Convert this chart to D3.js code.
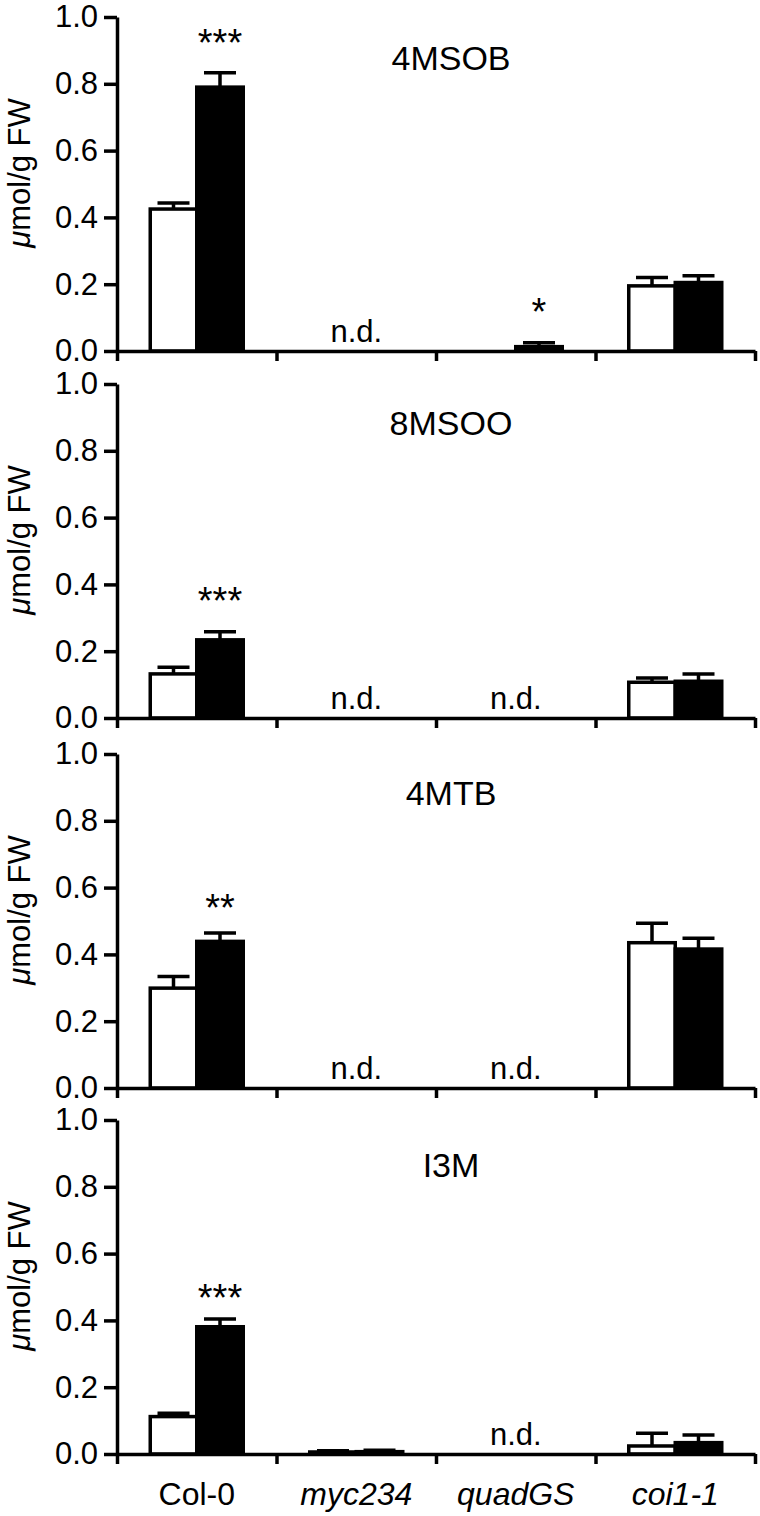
<!DOCTYPE html>
<html>
<head>
<meta charset="utf-8">
<script src="https://cdn.jsdelivr.net/npm/d3@7"></script>
<style>
  html, body { margin: 0; padding: 0; background: #fff; }
  svg text { font-family: "Liberation Sans", Arial, Helvetica, sans-serif; fill: #000; }
</style>
</head>
<body>
<svg id="chart" width="760" height="1516"></svg>
<script>
// ---- data ----
const categories = ["Col-0", "myc234", "quadGS", "coi1-1"];
const categoryItalic = [false, true, true, true];
const panels = ["4MSOB", "8MSOO", "4MTB", "I3M"];
const series = ["control", "treated"];
const yTicks = [0, 0.2, 0.4, 0.6, 0.8, 1.0];

// open bars (control)
const controlValues = [
  [0.425, 0, 0, 0.195],
  [0.132, 0, 0, 0.107],
  [0.299, 0, 0, 0.435],
  [0.112, 0.006, 0, 0.024]
];
const controlErrors = [
  [0.018, 0, 0, 0.025],
  [0.020, 0, 0, 0.013],
  [0.035, 0, 0, 0.058],
  [0.010, 0.004, 0, 0.038]
];
// filled bars (treated)
const treatedValues = [
  [0.790, 0, 0.013, 0.205],
  [0.234, 0, 0, 0.110],
  [0.439, 0, 0, 0.416],
  [0.381, 0.007, 0, 0.034]
];
const treatedErrors = [
  [0.043, 0, 0.012, 0.020],
  [0.024, 0, 0, 0.022],
  [0.025, 0, 0, 0.032],
  [0.023, 0.004, 0, 0.023]
];
// not detected labels per panel
const notDetected = [
  ["myc234"],
  ["myc234", "quadGS"],
  ["myc234", "quadGS"],
  ["quadGS"]
];
// significance marks: [panel, category, label, y position in data units]
const significance = [
  [0, "Col-0", "***", 0.883],
  [0, "quadGS", "*", 0.078],
  [1, "Col-0", "***", 0.312],
  [2, "Col-0", "**", 0.50],
  [3, "Col-0", "***", 0.428]
];

// ---- layout ----
const panelTops = [17, 384, 754, 1120];
const panelH = 334;
const titleOffsets = [53, 51, 51, 57];
const left = 117, right = 755;
const sw = 3.5;
const fs = 31;

const svg = d3.select("#chart");

const x = d3.scaleBand().domain(categories).range([left, right]).padding(0);
const xs = d3.scaleBand().domain(series).range([0, x.bandwidth()]).paddingInner(0).paddingOuter(0.715);
const xb = d3.scaleLinear().domain([0, categories.length]).range([left, right]);

panels.forEach((name, p) => {
  const top = panelTops[p];
  const y = d3.scaleLinear().domain([0, 1]).range([top + panelH, top]);
  const g = svg.append("g");

  const rows = [];
  categories.forEach((c, i) => {
    rows.push({c, s: "control", v: controlValues[p][i], e: controlErrors[p][i], fill: "#fff"});
    rows.push({c, s: "treated", v: treatedValues[p][i], e: treatedErrors[p][i], fill: "#000"});
  });
  const drawn = rows.filter(d => d.v > 0);

  // error bars
  const eb = g.append("g").attr("stroke", "#000").attr("stroke-width", sw);
  drawn.forEach(d => {
    const cx = x(d.c) + xs(d.s) + xs.bandwidth() / 2;
    eb.append("line").attr("x1", cx).attr("x2", cx).attr("y1", y(d.v)).attr("y2", y(d.v + d.e));
    eb.append("line").attr("x1", cx - 16).attr("x2", cx + 16).attr("y1", y(d.v + d.e)).attr("y2", y(d.v + d.e));
  });

  // bars
  g.append("g").selectAll("rect").data(drawn).join("rect")
    .attr("x", d => x(d.c) + xs(d.s))
    .attr("width", xs.bandwidth())
    .attr("y", d => y(d.v))
    .attr("height", d => y(0) - y(d.v))
    .attr("fill", d => d.fill)
    .attr("stroke", "#000")
    .attr("stroke-width", sw);

  // y axis
  const ya = g.append("g").attr("transform", `translate(${left},0)`)
    .call(d3.axisLeft(y).tickValues(yTicks).tickFormat(d3.format(".1f")).tickSize(13).tickPadding(6).tickSizeOuter(0));
  ya.selectAll("path, line").attr("stroke", "#000").attr("stroke-width", sw);
  ya.selectAll("text").attr("font-size", fs).style("font-family", '"Liberation Sans", Arial, sans-serif').attr("fill", "#000");

  // x axis
  const xa = g.append("g").attr("transform", `translate(0,${y(0)})`)
    .call(d3.axisBottom(xb).tickValues(d3.range(0, categories.length + 1)).tickFormat("").tickSize(10).tickSizeOuter(0));
  xa.selectAll("path, line").attr("stroke", "#000").attr("stroke-width", sw);

  // y label
  const yl = g.append("text")
    .attr("transform", `translate(30,${top + panelH / 2 - 11}) rotate(-90)`)
    .attr("text-anchor", "middle")
    .attr("font-size", fs);
  yl.append("tspan").attr("font-style", "italic").text("\u03bc");
  yl.append("tspan").text("mol/g FW");

  // title
  g.append("text")
    .attr("x", 451).attr("y", top + titleOffsets[p])
    .attr("text-anchor", "middle").attr("font-size", 34)
    .text(name);

  // n.d.
  notDetected[p].forEach(c => {
    g.append("text")
      .attr("x", x(c) + x.bandwidth() / 2).attr("y", y(0) - 9)
      .attr("text-anchor", "middle").attr("font-size", fs)
      .text("n.d.");
  });

  // significance
  significance.filter(s => s[0] === p).forEach(s => {
    g.append("text")
      .attr("x", x(s[1]) + xs("treated") + xs.bandwidth() / 2)
      .attr("y", y(s[3]))
      .attr("text-anchor", "middle").attr("font-size", 38)
      .text(s[2]);
  });

  // category labels on bottom panel
  if (p === panels.length - 1) {
    categories.forEach((c, i) => {
      g.append("text")
        .attr("x", x(c) + x.bandwidth() / 2).attr("y", y(0) + 51)
        .attr("text-anchor", "middle").attr("font-size", 32)
        .attr("font-style", categoryItalic[i] ? "italic" : "normal")
        .text(c);
    });
  }
});
</script>
</body>
</html>
